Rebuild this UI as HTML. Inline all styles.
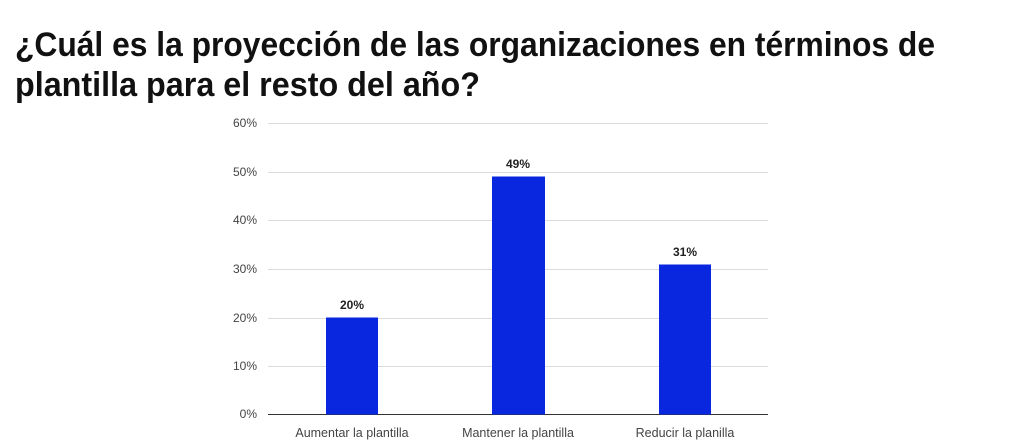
<!DOCTYPE html>
<html><head><meta charset="utf-8"><style>body{margin:0;background:#fff;}svg{display:block}</style></head>
<body>
<svg width="1025" height="445" xmlns="http://www.w3.org/2000/svg">
<g font-family="'Liberation Sans', 'DejaVu Sans', sans-serif" font-weight="bold" fill="#111">
<text x="15" y="56" font-size="34" textLength="920" lengthAdjust="spacingAndGlyphs">¿Cuál es la proyección de las organizaciones en términos de</text>
<text x="15" y="96" font-size="34" textLength="465" lengthAdjust="spacingAndGlyphs">plantilla para el resto del año?</text>
</g>
<g stroke="#dcdcdc" stroke-width="1">
<line x1="268" x2="768" y1="123.5" y2="123.5"/>
<line x1="268" x2="768" y1="172.5" y2="172.5"/>
<line x1="268" x2="768" y1="220.5" y2="220.5"/>
<line x1="268" x2="768" y1="269.5" y2="269.5"/>
<line x1="268" x2="768" y1="318.5" y2="318.5"/>
<line x1="268" x2="768" y1="366.5" y2="366.5"/>
</g>
<line x1="268" x2="768" y1="414.5" y2="414.5" stroke="#333" stroke-width="1"/>
<g font-family="'Liberation Sans', sans-serif" font-size="12" fill="#444" text-anchor="end">
<text x="257" y="127">60%</text><text x="257" y="176">50%</text><text x="257" y="224">40%</text>
<text x="257" y="273">30%</text><text x="257" y="322">20%</text><text x="257" y="370">10%</text><text x="257" y="418">0%</text>
</g>
<g fill="#0a27e0">
<rect x="326" y="317.5" width="52" height="97"/>
<rect x="492" y="176.5" width="53" height="238"/>
<rect x="659" y="264.5" width="52" height="150"/>
</g>
<g font-family="'Liberation Sans', sans-serif" font-size="12" font-weight="bold" fill="#222" text-anchor="middle">
<text x="352" y="309">20%</text><text x="518" y="168">49%</text><text x="685" y="256">31%</text>
</g>
<g font-family="'Liberation Sans', sans-serif" font-size="12.5" fill="#444" text-anchor="middle">
<text x="352" y="437">Aumentar la plantilla</text>
<text x="518" y="437">Mantener la plantilla</text>
<text x="685" y="437">Reducir la planilla</text>
</g>
</svg>
</body></html>
